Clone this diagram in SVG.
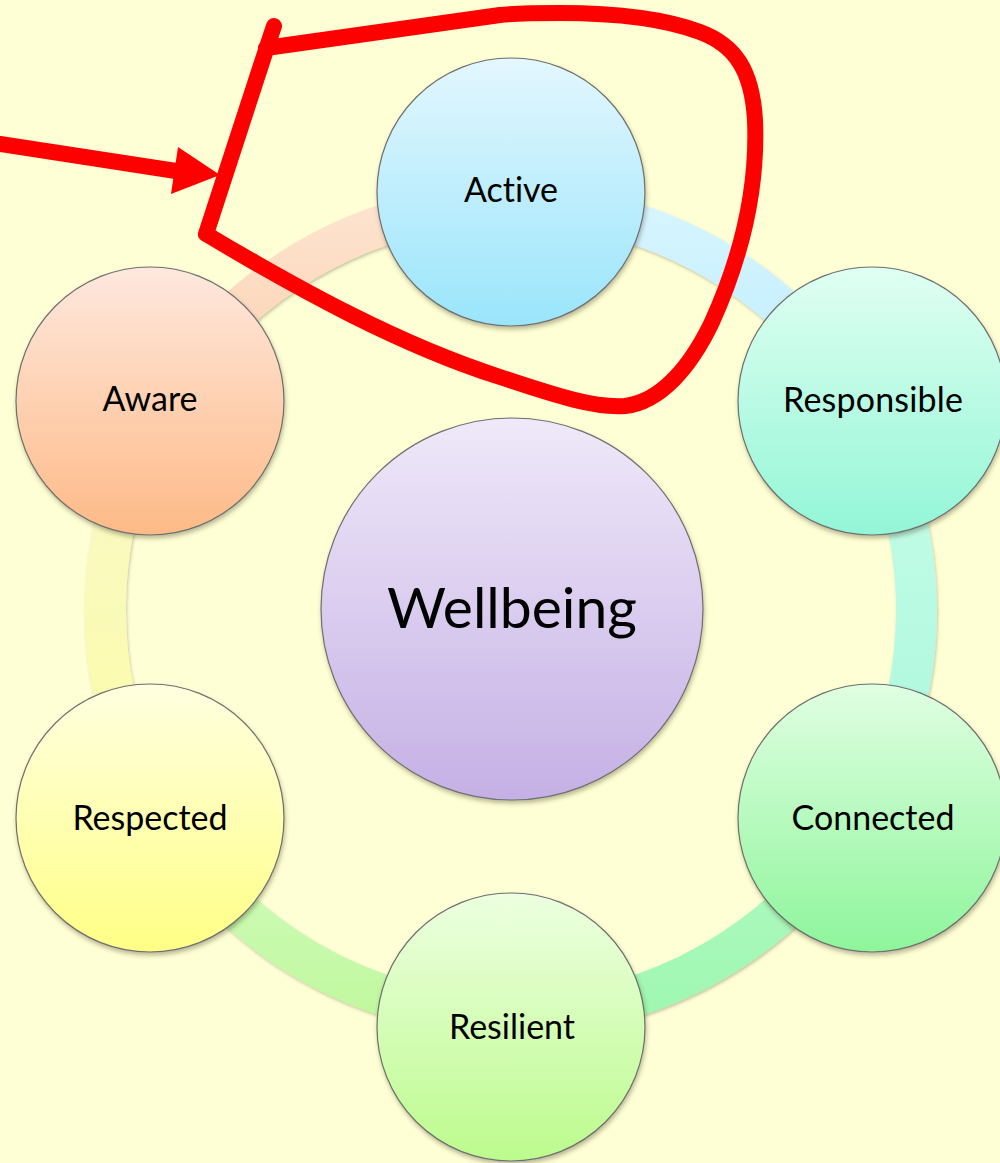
<svg xmlns="http://www.w3.org/2000/svg" width="1000" height="1163" viewBox="0 0 1000 1163">
  <defs>
    <style>
      .node { stroke: #6f6f6f; stroke-width: 1.2; filter: url(#shadow); }
      .label { font-family: Lato, "Open Sans", sans-serif; font-size: 34px; fill: #000; text-anchor: middle; font-variant-ligatures: none; }
      .big { font-size: 57px; }
      .link { fill: none; stroke-width: 41; filter: url(#softshadow); }
      .ink { fill: none; stroke: #ff0000; stroke-width: 16; stroke-linecap: round; stroke-linejoin: round; }
    </style>
    <filter id="shadow" x="-10%" y="-10%" width="125%" height="125%">
      <feDropShadow dx="1" dy="3" stdDeviation="2.2" flood-color="#3a3a1a" flood-opacity="0.35"/>
    </filter>
    <filter id="softshadow" filterUnits="userSpaceOnUse" x="0" y="0" width="1000" height="1163">
      <feDropShadow dx="1" dy="2" stdDeviation="1.5" flood-color="#4a4a2a" flood-opacity="0.3"/>
    </filter>
    <!-- node fills -->
    <linearGradient id="gActive" x1="0" y1="0" x2="0" y2="1">
      <stop offset="0" stop-color="#e3f7fe"/><stop offset="1" stop-color="#9ae5fb"/>
    </linearGradient>
    <linearGradient id="gResponsible" x1="0" y1="0" x2="0" y2="1">
      <stop offset="0" stop-color="#e0fff2"/><stop offset="1" stop-color="#93f6d6"/>
    </linearGradient>
    <linearGradient id="gConnected" x1="0" y1="0" x2="0" y2="1">
      <stop offset="0" stop-color="#e0ffe2"/><stop offset="1" stop-color="#8ef59b"/>
    </linearGradient>
    <linearGradient id="gResilient" x1="0" y1="0" x2="0" y2="1">
      <stop offset="0" stop-color="#edffe0"/><stop offset="1" stop-color="#bcfb8d"/>
    </linearGradient>
    <linearGradient id="gRespected" x1="0" y1="0" x2="0" y2="1">
      <stop offset="0" stop-color="#ffffe0"/><stop offset="1" stop-color="#ffff86"/>
    </linearGradient>
    <linearGradient id="gAware" x1="0" y1="0" x2="0" y2="1">
      <stop offset="0" stop-color="#fee8de"/><stop offset="1" stop-color="#fdba86"/>
    </linearGradient>
    <linearGradient id="gWellbeing" x1="0" y1="0" x2="0" y2="1">
      <stop offset="0" stop-color="#efe9f9"/><stop offset="1" stop-color="#c5b0e5"/>
    </linearGradient>
    <!-- ring segment fills -->
    <linearGradient id="lAwareActive" x1="0" y1="0" x2="0" y2="1">
      <stop offset="0" stop-color="#fde4d0"/><stop offset="1" stop-color="#fccfac"/>
    </linearGradient>
    <linearGradient id="lActiveResp" x1="0" y1="0" x2="0" y2="1">
      <stop offset="0" stop-color="#d6f5ff"/><stop offset="1" stop-color="#bdedfd"/>
    </linearGradient>
    <linearGradient id="lRespConn" x1="0" y1="0" x2="0" y2="1">
      <stop offset="0" stop-color="#c9fce8"/><stop offset="1" stop-color="#a8f8dc"/>
    </linearGradient>
    <linearGradient id="lConnRes" x1="0" y1="0" x2="0" y2="1">
      <stop offset="0" stop-color="#b4fac6"/><stop offset="1" stop-color="#9ef7b0"/>
    </linearGradient>
    <linearGradient id="lResResp" x1="0" y1="0" x2="0" y2="1">
      <stop offset="0" stop-color="#d4fcc2"/><stop offset="1" stop-color="#c0f89e"/>
    </linearGradient>
    <linearGradient id="lRespAware" x1="0" y1="0" x2="0" y2="1">
      <stop offset="0" stop-color="#f8f8cc"/><stop offset="1" stop-color="#fcfca4"/>
    </linearGradient>
  </defs>

  <rect width="1000" height="1163" fill="#ffffd6"/>

  <!-- ring segments linking neighbouring circles -->
  <g id="connectors">
    <path class="link" stroke="url(#lAwareActive)" d="M159.8 407.25 A405.5 405.5 0 0 1 511 204.5"/>
    <path class="link" stroke="url(#lActiveResp)" d="M511 204.5 A405.5 405.5 0 0 1 862.2 407.25"/>
    <path class="link" stroke="url(#lRespConn)" d="M862.2 407.25 A405.5 405.5 0 0 1 862.2 812.75"/>
    <path class="link" stroke="url(#lConnRes)" d="M862.2 812.75 A405.5 405.5 0 0 1 511 1015.5"/>
    <path class="link" stroke="url(#lResResp)" d="M511 1015.5 A405.5 405.5 0 0 1 159.8 812.75"/>
    <path class="link" stroke="url(#lRespAware)" d="M159.8 812.75 A405.5 405.5 0 0 1 159.8 407.25"/>
  </g>

  <g id="wellbeing">
    <circle class="node" cx="512" cy="609" r="191" fill="url(#gWellbeing)"/>
    <text class="label big" x="512" y="628">Wellbeing</text>
  </g>
  <g id="active">
    <circle class="node" cx="511" cy="192" r="134" fill="url(#gActive)"/>
    <text class="label" x="511" y="202">Active</text>
  </g>
  <g id="responsible">
    <circle class="node" cx="872" cy="401" r="134" fill="url(#gResponsible)"/>
    <text class="label" x="873" y="412" textLength="180">Responsible</text>
  </g>
  <g id="connected">
    <circle class="node" cx="872" cy="818" r="134" fill="url(#gConnected)"/>
    <text class="label" x="873" y="830">Connected</text>
  </g>
  <g id="resilient">
    <circle class="node" cx="511" cy="1027" r="134" fill="url(#gResilient)"/>
    <text class="label" x="512" y="1039">Resilient</text>
  </g>
  <g id="respected">
    <circle class="node" cx="150" cy="818" r="134" fill="url(#gRespected)"/>
    <text class="label" x="150" y="830">Respected</text>
  </g>
  <g id="aware">
    <circle class="node" cx="150" cy="401" r="134" fill="url(#gAware)"/>
    <text class="label" x="150" y="411">Aware</text>
  </g>

  <!-- hand-drawn red highlight -->
  <g id="highlight">
    <path class="ink" d="M0 144 L176 171"/>
    <polygon fill="#ff0000" points="178,147 220,175 171,194"/>
    <path class="ink" d="M274 26 L266 50 L206 234 C300 290 400 345 500 377 C560 397 595 408 625 406 C660 402 690 368 712 322 C740 260 758 190 755 120 C752 70 735 45 700 32 C660 17 610 13 560 13 C520 13 500 15 500 15 L266 48"/>
  </g>
</svg>
